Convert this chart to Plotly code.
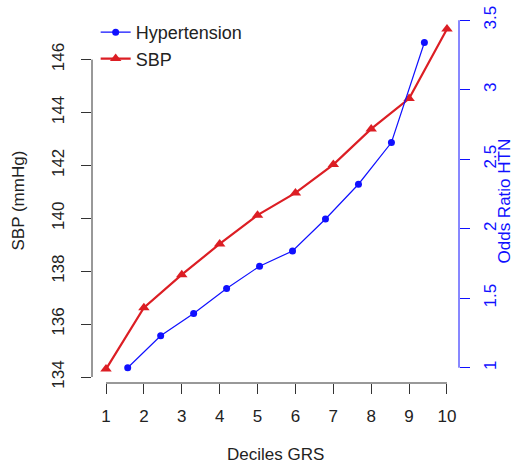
import plotly.graph_objects as go

# Deciles of the genetic risk score
deciles = [1, 2, 3, 4, 5, 6, 7, 8, 9, 10]
# Mean systolic blood pressure per decile (mmHg)
sbp = [134.30, 136.62, 137.87, 139.03, 140.12, 140.96, 142.03, 143.38, 144.53, 147.16]
# Odds ratio of hypertension per decile (decile 1 = reference)
or_htn = [1.00, 1.23, 1.39, 1.57, 1.73, 1.84, 2.07, 2.32, 2.62, 3.34]

sbp_ticks = [134, 136, 138, 140, 142, 144, 146]
or_ticks = [1, 1.5, 2, 2.5, 3, 3.5]
or_tick_text = ["1", "1.5", "2", "2.5", "3", "3.5"]

RED = "#dc1e24"
BLUE = "#1010ff"
INK = "#333333"
TXT = "#222222"
FONT = "Liberation Sans, Arial, Helvetica, sans-serif"
FS = 17

fig = go.Figure()

fig.add_trace(go.Scatter(
    x=deciles, y=sbp, name="SBP", mode="lines+markers",
    line=dict(color=RED, width=2.2),
    marker=dict(symbol="triangle-up", size=10, color=RED),
    xaxis="x", yaxis="y", legendrank=2,
))
fig.add_trace(go.Scatter(
    x=deciles, y=or_htn, name="Hypertension", mode="lines+markers",
    line=dict(color=BLUE, width=1.2),
    marker=dict(symbol="circle", size=7, color=BLUE),
    xaxis="x2", yaxis="y2", legendrank=1,
))

common = dict(showgrid=False, zeroline=False, showline=False, ticks="outside",
              ticklen=10, tickwidth=1)

fig.update_layout(
    width=522, height=465,
    margin=dict(l=92, r=63, t=18, b=82, autoexpand=False),
    paper_bgcolor="white", plot_bgcolor="white",
    font=dict(family=FONT, size=FS, color=TXT),
    showlegend=True,
    legend=dict(x=0.01, y=1.011, xanchor="left", yanchor="top",
                bgcolor="rgba(0,0,0,0)", font=dict(size=18, color=TXT),
                tracegroupgap=0),
    xaxis=dict(range=[0.6305, 10.317], tickvals=deciles, tickcolor=INK,
               ticklabelstandoff=8,
               tickfont=dict(size=FS, color=TXT), **common),
    xaxis2=dict(range=[-0.083, 11.05], overlaying="x", anchor="y2",
                visible=False),
    yaxis=dict(range=[133.773, 147.573], tickvals=sbp_ticks, tickangle=-90,
               ticklabelstandoff=10,
               tickcolor=INK, tickfont=dict(size=FS, color=TXT), **common),
    yaxis2=dict(range=[0.89, 3.516], overlaying="y", side="right",
                tickvals=or_ticks, ticktext=or_tick_text, tickangle=-90,
                ticklabelstandoff=6,
                tickcolor=BLUE, tickfont=dict(size=FS, color=BLUE), **common),
)

# R-style axis lines spanning only the first to the last tick
fig.add_shape(type="line", xref="x", yref="paper", x0=deciles[0], x1=deciles[-1],
              y0=0, y1=0, line=dict(color=INK, width=1))
fig.add_shape(type="line", xref="paper", yref="y", x0=0, x1=0,
              y0=sbp_ticks[0], y1=sbp_ticks[-1], line=dict(color=INK, width=1))
fig.add_shape(type="line", xref="paper", yref="y2", x0=1, x1=1,
              y0=or_ticks[0], y1=or_ticks[-1], line=dict(color=BLUE, width=1))

# Axis titles
fig.add_annotation(text="Deciles GRS", xref="paper", yref="paper", x=0.5, y=-0.197,
                   xanchor="center", yanchor="middle",
                   showarrow=False, font=dict(size=FS, color=TXT))
fig.add_annotation(text="SBP (mmHg)", xref="paper", yref="paper", x=-0.2016, y=0.5,
                   xanchor="center", yanchor="middle",
                   textangle=-90, showarrow=False, font=dict(size=FS, color=TXT))
fig.add_annotation(text="Odds Ratio HTN", xref="paper", yref="paper", x=1.1253, y=0.5,
                   xanchor="center", yanchor="middle",
                   textangle=-90, showarrow=False, font=dict(size=FS, color=BLUE))

fig.write_html("out.html")
